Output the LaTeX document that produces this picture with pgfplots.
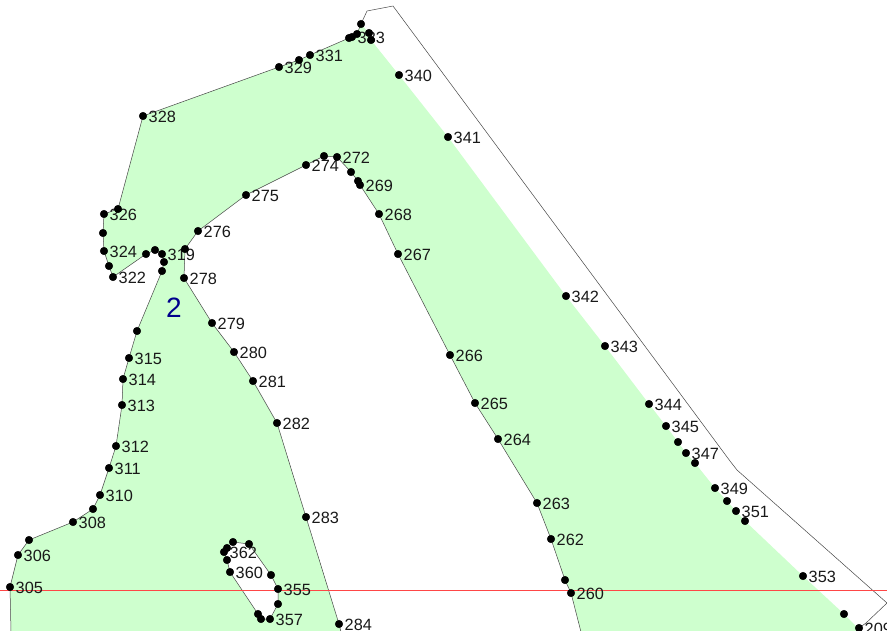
\documentclass[border=0pt]{standalone}
\usepackage{pgfplots}
\usepackage{pgfplotstable}
\usepackage{fontspec}
\setmainfont{Liberation Sans}
\pgfplotsset{compat=1.18}

\definecolor{parcel}{RGB}{206,255,206}
\definecolor{edge}{RGB}{70,70,70}
\definecolor{gridline}{RGB}{255,70,70}
\definecolor{zone}{RGB}{0,0,140}

% numbered survey points (pixel positions)
\pgfplotstableread{
x y label
10 587 305
18 555 306
73 522 308
100 495 310
109 468 311
116 446 312
122 405 313
123 379 314
129 358 315
162 254 319
113 277 322
104 251 324
104 214 326
143 116 328
279 67 329
310 55 331
352 37 333
399 75 340
448 137 341
566 296 342
605 346 343
649 404 344
666 426 345
686 453 347
715 488 349
736 511 351
803 576 353
278 589 355
270 619 357
230 572 360
224 552 362
571 593 260
551 539 262
537 503 263
498 439 264
475 403 265
450 355 266
398 254 267
379 214 268
360 185 269
337 157 272
306 165 274
246 195 275
198 231 276
184 278 278
212 323 279
234 352 280
253 381 281
277 423 282
306 517 283
339 624 284
859 628 209
}\labelled

\begin{document}
\begin{tikzpicture}
\clip (0,0) rectangle (887pt,630pt);
\begin{axis}[
    at={(0,0)}, anchor=south west,
    scale only axis,
    width=887pt, height=630pt,
    xmin=0, xmax=887,
    ymin=0, ymax=630,
    y dir=reverse,
    hide axis,
    clip=false,
    ]

    % parcel
    \addplot[fill=parcel, draw=none] coordinates {
        (11,632) (10,587) (18,555) (29,540) (73,522) (93,509) (100,495) (109,468)
        (116,446) (122,405) (123,379) (129,358) (137,331) (162,271) (164,262)
        (162,254) (155,250) (146,254) (113,277) (109,266) (104,251) (103,233)
        (104,214) (118,209) (143,116) (279,67) (299,60) (310,55) (349,38) (352,37)
        (357,34) (361,24) (369,33) (371,40) (399,75) (448,137) (566,296) (605,346)
        (649,404) (666,426) (678,442) (686,453) (695,463) (715,488) (727,501)
        (736,511) (745,521) (803,576) (844,614) (862,632)
        (581,632) (571,593) (565,580) (551,539) (537,503) (498,439) (475,403)
        (450,355) (398,254) (379,214) (360,185) (358,181) (351,172) (337,157)
        (324,156) (306,165) (246,195) (198,231) (185,249) (184,278) (212,323)
        (234,352) (253,381) (277,423) (306,517) (339,624) (341,632)
    } -- cycle;
    % hole
    \addplot[fill=white, draw=edge, line width=0.5pt] coordinates {
        (233,542) (249,544) (271,575) (278,589) (278,604) (270,619) (261,619)
        (258,614) (230,572) (227,560) (224,552) (227,548)
    } -- cycle;

    % boundary lines
    \addplot[edge, line width=0.5pt] coordinates {
        (11,632) (10,587) (18,555) (29,540) (73,522) (93,509) (100,495) (109,468)
        (116,446) (122,405) (123,379) (129,358) (137,331) (162,271) (164,262)
        (162,254) (155,250) (146,254) (113,277) (109,266) (104,251) (103,233)
        (104,214) (118,209) (143,116) (279,67) (299,60) (310,55) (349,38) (352,37)
        (357,34) (361,24) (367,11) (393,6) (730,461) (737,470) (887,603) (866,623) (859,628)
    };
    \addplot[edge, line width=0.5pt] coordinates {
        (581,632) (571,593) (565,580) (551,539) (537,503) (498,439) (475,403)
        (450,355) (398,254) (379,214) (360,185) (358,181) (351,172) (337,157)
        (324,156) (306,165) (246,195) (198,231) (185,249) (184,278) (212,323)
        (234,352) (253,381) (277,423) (306,517) (339,624) (341,632)
    };

    % grid line
    \addplot[gridline, line width=0.6pt] coordinates {(0,590) (887,590)};

    % labels first, the dots sit on top of them
    \addplot[draw=none, mark=none,
        point meta=explicit symbolic,
        nodes near coords,
        every node near coord/.append style={anchor=west, xshift=3.5pt, yshift=-0.7pt,
            inner sep=2pt, text=black!90, font=\fontsize{16.3}{16}\selectfont},
        ] table[x=x, y=y, meta=label] {\labelled};

    % dots
    \addplot[only marks, mark=*, mark size=3.8pt, black] table[x=x, y=y] {\labelled};
    \addplot[only marks, mark=*, mark size=3.8pt, black] coordinates {
        (29,540) (93,509) (137,331) (162,271) (164,262) (155,250) (146,254)
        (109,266) (103,233) (118,209) (299,60) (349,38) (357,34) (361,24)
        (369,33) (371,40) (678,442) (695,463) (727,501) (745,521) (844,614)
        (565,580) (358,181) (351,172) (324,156) (185,249)
        (233,542) (249,544) (271,575) (278,604) (261,619) (258,614) (227,560) (227,548)
    };

    \node[text=zone, font=\fontsize{28}{28}\selectfont] at (axis cs:174,307.5) {2};
\end{axis}
\end{tikzpicture}
\end{document}
